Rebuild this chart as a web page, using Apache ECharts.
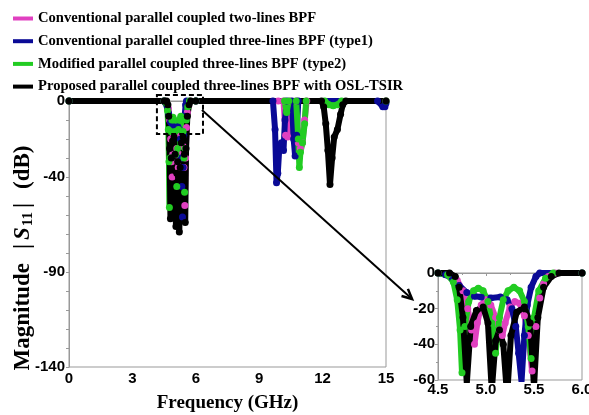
<!DOCTYPE html>
<html>
<head>
<meta charset="utf-8">
<script src="https://cdn.jsdelivr.net/npm/echarts@6/dist/echarts.min.js"></script>
<style>
  html, body { margin: 0; padding: 0; background: #fff; }
  #chart { width: 589px; height: 415px; }
</style>
</head>
<body>
<div id="chart"></div>
<script>
// S11 traces (frequency in GHz, magnitude in dB)
const freqTwoLine = [0, 4.5, 4.62, 4.7, 4.76, 4.81, 4.85, 4.88, 4.91, 4.95, 5.0, 5.05, 5.1, 5.14, 5.17, 5.2, 5.25, 5.3, 5.35, 5.4, 5.44, 5.48, 5.52, 5.56, 5.6, 5.65, 5.72, 6.0, 9.9, 10.15, 10.25, 10.35, 10.45, 10.75, 10.85, 10.95, 11.05, 11.15, 11.25, 15]
const s11TwoLine = [0, 0, -1, -4, -10, -20, -32, -40, -28, -18, -15, -18, -25, -32, -35, -28, -19, -16, -17, -24, -35, -55, -30, -14, -6, -2, 0, 0, 0, 0, -18, -19, 0, 0, -22, -25, -22, -10, 0, 0]

const freqType1 = [0, 4.5, 4.58, 4.65, 4.72, 4.8, 4.88, 4.95, 5.05, 5.15, 5.22, 5.27, 5.31, 5.34, 5.37, 5.4, 5.43, 5.47, 5.52, 5.56, 6.0, 9.65, 9.75, 9.82, 9.88, 9.95, 10.05, 10.15, 10.22, 10.3, 10.55, 10.63, 10.7, 10.77, 10.85, 14.6, 14.85, 14.95, 15]
const s11Type1 = [0, 0, -1, -3, -7, -11, -13, -13.5, -14, -13.5, -15, -20, -30, -45, -61, -35, -18, -8, -2, 0, 0, 0, -15, -43, -38, -25, -22, -26, -10, 0, 0, -20, -29, -18, 0, 0, -3, -3, -1]

const freqType2 = [0, 4.5, 4.6, 4.66, 4.7, 4.73, 4.75, 4.78, 4.82, 4.87, 4.92, 4.97, 5.02, 5.06, 5.1, 5.14, 5.18, 5.23, 5.29, 5.35, 5.4, 5.44, 5.47, 5.5, 5.55, 5.62, 5.7, 6.0, 10.2, 10.3, 10.4, 10.75, 10.85, 10.9, 10.95, 11.05, 11.15, 11.22, 12.1, 12.3, 12.5, 12.7, 12.9, 15]
const s11Type2 = [0, 0, -1, -5, -15, -32, -56, -30, -16, -10, -8.5, -10, -16, -28, -45, -25, -15, -10, -8, -10, -16, -30, -48, -25, -10, -3, 0, 0, 0, -6, 0, 0, -20, -35, -27, -22, -12, 0, 0, -2, -2.5, -2, 0, 0]

const freqProposed = [0, 4.5, 4.62, 4.68, 4.72, 4.76, 4.8, 4.84, 4.9, 4.97, 5.02, 5.06, 5.1, 5.14, 5.18, 5.22, 5.26, 5.32, 5.4, 5.46, 5.5, 5.54, 5.6, 5.68, 5.76, 6.0, 11.95, 12.05, 12.15, 12.25, 12.35, 12.45, 12.55, 12.7, 12.85, 12.95, 13.1, 15]
const s11Proposed = [0, 0, 0, -2, -8, -25, -62, -30, -21, -19, -28, -66, -38, -32, -40, -69, -35, -22, -19, -28, -64, -25, -8, -2, 0, 0, 0, -3, -12, -26, -44, -30, -19, -15, -7, -2, 0, 0]

const mainYLabels = [0, -40, -90, -140]

const traces = [
  { name: 'Conventional parallel coupled two-lines BPF', color: '#e040c0', x: freqTwoLine, y: s11TwoLine },
  { name: 'Conventional parallel coupled three-lines BPF (type1)', color: '#0a0a96', x: freqType1, y: s11Type1 },
  { name: 'Modified parallel coupled three-lines BPF (type2)', color: '#22cc22', x: freqType2, y: s11Type2 },
  { name: 'Proposed parallel coupled three-lines BPF with OSL-TSIR', color: '#000000', x: freqProposed, y: s11Proposed }
]

const tickFont = { color: '#000', fontFamily: 'Liberation Sans', fontWeight: 'bold', fontSize: 15 }
const serif = 'Liberation Serif'

function pairs (xs, ys) {
  return xs.map((x, i) => [x, ys[i]])
}

const series = []
traces.forEach((t) => {
  // main plot
  series.push({
    name: t.name,
    type: 'line',
    xAxisIndex: 0,
    yAxisIndex: 0,
    data: pairs(t.x, t.y),
    symbol: 'circle',
    symbolSize: 7,
    clip: false,
    lineStyle: { width: 6, color: t.color },
    itemStyle: { color: t.color },
    animation: false
  })
  // zoomed inset
  series.push({
    name: t.name,
    type: 'line',
    xAxisIndex: 1,
    yAxisIndex: 1,
    data: pairs(t.x, t.y),
    symbol: 'circle',
    symbolSize: 7,
    clip: true,
    lineStyle: { width: 6, color: t.color },
    itemStyle: { color: t.color },
    animation: false
  })
})

const chart = echarts.init(document.getElementById('chart'))
chart.setOption({
  animation: false,
  legend: {
    orient: 'vertical',
    left: 8,
    top: 5,
    itemGap: 5.7,
    itemWidth: 20,
    itemHeight: 4,
    icon: 'rect',
    data: traces.map((t) => t.name),
    textStyle: { color: '#000', fontFamily: serif, fontWeight: 'bold', fontSize: 14.6, lineHeight: 17 }
  },
  grid: [
    { left: 69, top: 101, width: 317, height: 266, show: true, borderColor: '#999', borderWidth: 1, outerBoundsMode: 'none', containLabel: false },
    { left: 438, top: 273, width: 144, height: 107, show: true, borderColor: '#999', borderWidth: 1, outerBoundsMode: 'none', containLabel: false }
  ],
  xAxis: [
    {
      gridIndex: 0,
      type: 'value',
      min: 0,
      max: 15,
      interval: 3,
      name: 'Frequency (GHz)',
      nameLocation: 'middle',
      nameGap: 27,
      nameMoveOverlap: false,
      nameTextStyle: { color: '#000', fontFamily: serif, fontWeight: 'bold', fontSize: 19 },
      axisLine: { lineStyle: { color: '#999' } },
      axisTick: { length: 3, lineStyle: { color: '#999' } },
      minorTick: { show: true, splitNumber: 2, length: 2, lineStyle: { color: '#999' } },
      splitLine: { show: false },
      axisLabel: Object.assign({ margin: 4 }, tickFont)
    },
    {
      gridIndex: 1,
      type: 'value',
      min: 4.5,
      max: 6.0,
      interval: 0.5,
      axisLine: { lineStyle: { color: '#999' } },
      axisTick: { length: 3, lineStyle: { color: '#999' } },
      minorTick: { show: true, splitNumber: 2, length: 2, lineStyle: { color: '#999' } },
      splitLine: { show: false },
      axisLabel: Object.assign({ margin: 2, formatter: (v) => v.toFixed(1) }, tickFont)
    }
  ],
  yAxis: [
    {
      gridIndex: 0,
      type: 'value',
      min: -140,
      max: 0,
      interval: 10,
      name: '{t|Magnitude}{sp|}{t||}{s|S}{n|11}{t||}{sp|}{t|(dB)}',
      nameLocation: 'middle',
      nameGap: 33,
      nameMoveOverlap: false,
      nameTextStyle: {
        padding: [0, 48, 0, 0],
        rich: {
          t: { color: '#000', fontFamily: serif, fontWeight: 'bold', fontSize: 23, lineHeight: 26 },
          sp: { width: 14 },
          s: { color: '#000', fontFamily: serif, fontWeight: 'bold', fontStyle: 'italic', fontSize: 23, lineHeight: 26, padding: [0, 1, 0, 4] },
          n: { color: '#000', fontFamily: serif, fontWeight: 'bold', fontSize: 15, lineHeight: 16, verticalAlign: 'bottom', padding: [0, 4, 0, 0] }
        }
      },
      axisLine: { show: true, lineStyle: { color: '#999' } },
      axisTick: { length: 3, lineStyle: { color: '#999' } },
      splitLine: { show: false },
      axisLabel: Object.assign({
        margin: 4,
        formatter: (v) => (mainYLabels.indexOf(v) >= 0 ? String(v) : '')
      }, tickFont)
    },
    {
      gridIndex: 1,
      type: 'value',
      min: -60,
      max: 0,
      interval: 20,
      axisLine: { show: true, lineStyle: { color: '#999' } },
      axisTick: { length: 3, lineStyle: { color: '#999' } },
      minorTick: { show: true, splitNumber: 2, length: 2, lineStyle: { color: '#999' } },
      splitLine: { show: false },
      axisLabel: Object.assign({ margin: 3 }, tickFont)
    }
  ],
  series: series
})

// dashed zoom box and arrow pointing to the inset
const px = (g, x, y) => chart.convertToPixel({ gridIndex: g }, [x, y])
const b1 = px(0, 4.16, 3.2)
const b2 = px(0, 6.34, -17.4)
const a1 = px(0, 6.29, -4.7)
const a2 = px(1, 4.23, -14.6)
const ang = Math.atan2(a2[1] - a1[1], a2[0] - a1[0])
const head = 11
const w1 = [a2[0] - head * Math.cos(ang - 0.45), a2[1] - head * Math.sin(ang - 0.45)]
const w2 = [a2[0] - head * Math.cos(ang + 0.45), a2[1] - head * Math.sin(ang + 0.45)]

chart.setOption({
  graphic: [
    {
      type: 'rect',
      z: 100,
      shape: { x: b1[0], y: b1[1], width: b2[0] - b1[0], height: b2[1] - b1[1] },
      style: { fill: 'none', stroke: '#000', lineWidth: 2, lineDash: [5, 3] }
    },
    {
      type: 'line',
      z: 100,
      shape: { x1: a1[0], y1: a1[1], x2: a2[0], y2: a2[1] },
      style: { stroke: '#000', lineWidth: 2 }
    },
    {
      type: 'polyline',
      z: 100,
      shape: { points: [w1, a2, w2] },
      style: { fill: 'none', stroke: '#000', lineWidth: 2.5 }
    }
  ]
})
</script>
</body>
</html>
